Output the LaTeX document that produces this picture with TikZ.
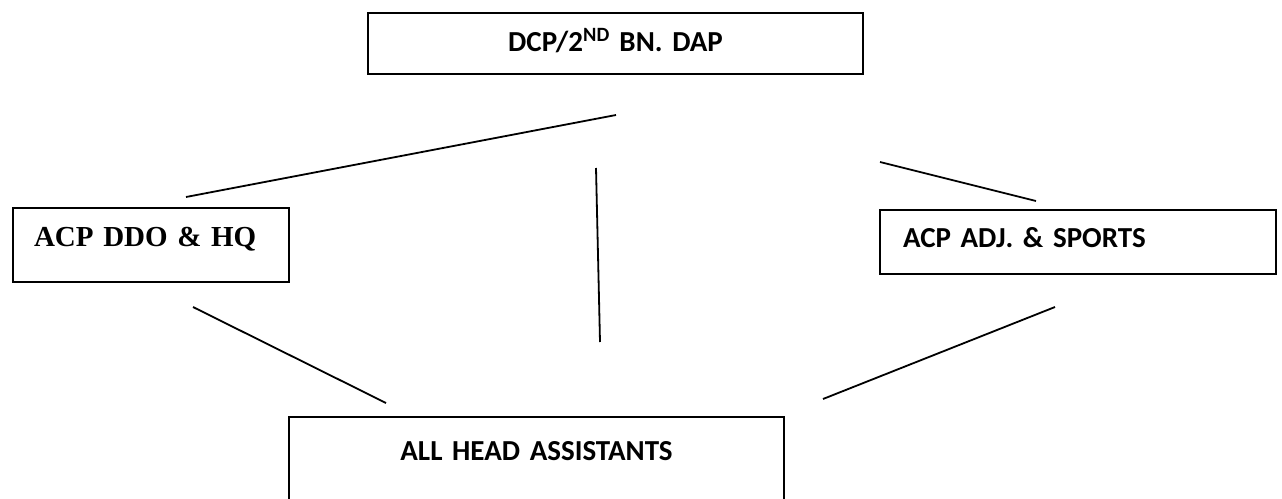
\documentclass[tikz,border=0pt]{standalone}
\usepackage{fontspec}
\setmainfont{Carlito}
\newfontfamily\timesfont{Liberation Serif}
\begin{document}
\begin{tikzpicture}[x=1pt, y=-1pt,
  box/.style = {shape=rectangle, draw, line width=2pt, anchor=north west,
    inner ysep=0pt, font=\fontsize{29}{34}\selectfont\bfseries},
  link/.style = {line width=1.8pt}]
  \useasboundingbox (0,0) rectangle (1282,498);
  \node[box, align=center, inner xsep=0pt, text width=495pt,
    text height=38pt, text depth=23pt] (dcp) at (367,12) {DCP/2\textsuperscript{ND} BN. DAP};
  \node[box, align=left, inner xsep=21pt, text width=234pt,
    text height=38pt, text depth=36pt,
    font=\fontsize{29}{34}\selectfont\timesfont\bfseries] (ddo) at (12,207) {ACP DDO \& HQ};
  \node[box, align=left, inner xsep=23pt, text width=350pt,
    text height=37pt, text depth=27pt] (adj) at (879,209) {ACP ADJ. \& SPORTS};
  \node[box, align=center, inner xsep=0pt, text width=495pt,
    text height=43pt, text depth=70pt] (heads) at (288,416) {ALL HEAD ASSISTANTS};
  % free ends of the links
  \coordinate (ddo-up) at (186,197);
  \coordinate (dcp-left) at (616,115);
  \coordinate (mid-top) at (596,168);
  \coordinate (mid-bot) at (600,342);
  \coordinate (dcp-right) at (880,162);
  \coordinate (adj-up) at (1036,201);
  \coordinate (ddo-down) at (193,307);
  \coordinate (heads-left) at (386,403);
  \coordinate (adj-down) at (1055,307);
  \coordinate (heads-right) at (823,399);
  \draw[link] (ddo-up) -- (dcp-left);
  \draw[link] (mid-top) -- (mid-bot);
  \draw[link] (dcp-right) -- (adj-up);
  \draw[link] (ddo-down) -- (heads-left);
  \draw[link] (adj-down) -- (heads-right);
\end{tikzpicture}
\end{document}
